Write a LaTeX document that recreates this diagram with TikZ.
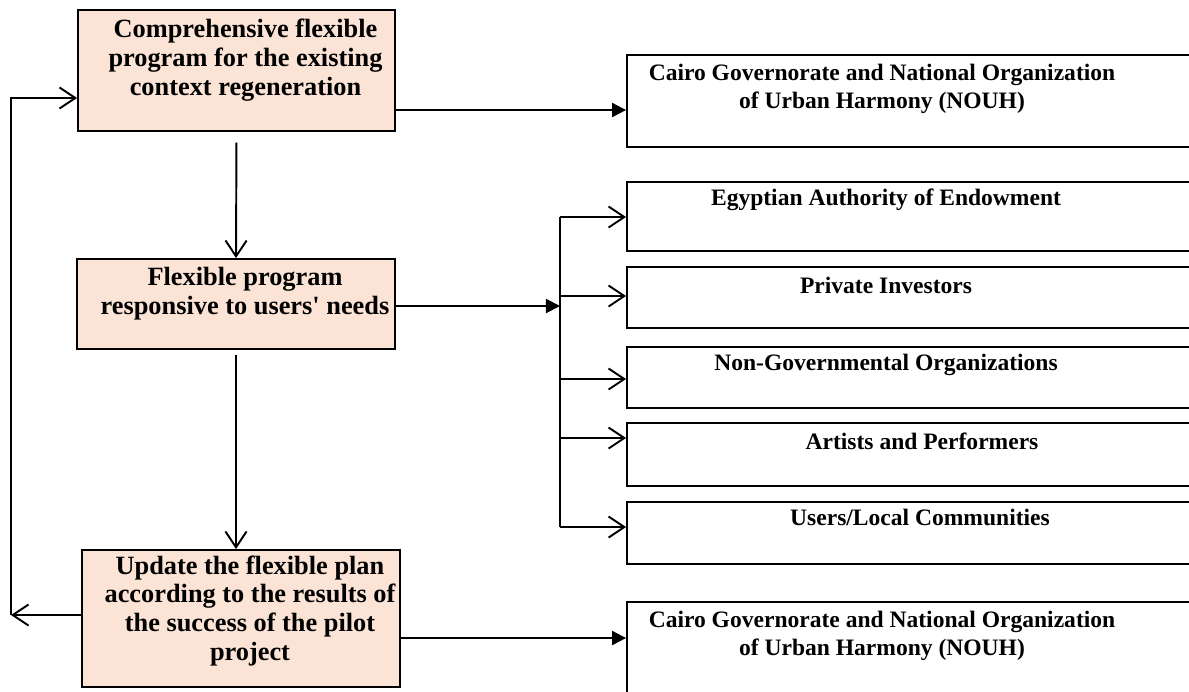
\documentclass[tikz,border=0pt]{standalone}
\usepackage{fontspec}
\setmainfont{Liberation Serif}
\usetikzlibrary{arrows.meta,positioning,calc}
\definecolor{peach}{HTML}{FBE4D5}

\begin{document}
\begin{tikzpicture}[x=0.02cm,y=-0.02cm,line width=1.1pt,
  pbox/.style={draw=black,fill=peach,rectangle,inner sep=0pt},
  wbox/.style={draw=black,fill=white,rectangle,inner sep=0pt,
    minimum width=11.56cm},
  ltext/.style={font=\fontsize{15}{16.5}\selectfont\bfseries,align=center,
    inner sep=0pt},
  rtext/.style={font=\fontsize{13.4}{16}\selectfont\bfseries,align=center,
    inner sep=0pt},
  barb/.style={-{Straight Barb[length=9pt,width=12pt]}},
  solid arrow/.style={-{Triangle[length=8pt,width=8pt]}}]

  \useasboundingbox (0,0) rectangle (1189,691);

  % ---- Left column: programme boxes ------------------------
  \node[pbox,minimum width=6.34cm,minimum height=2.42cm] (compr) at (236.5,70.5) {};
  \node[ltext] (comprtxt) at (245.5,60)
    {Comprehensive flexible\\program for the existing\\context regeneration};

  \node[pbox,minimum width=6.36cm,minimum height=1.80cm] (needs) at (236,304) {};
  \node[ltext] (needstxt) at (245,294)
    {Flexible program\\responsive to users\textquotesingle{} needs};

  \node[pbox,minimum width=6.36cm,minimum height=2.74cm] (update) at (241,618.5) {};
  \node[ltext] (updatetxt) at (250,611)
    {Update the flexible plan\\according to the results of\\the success of the pilot\\project};

  % ---- Right column: actors --------------------------------
  \node[wbox,minimum height=1.84cm] (cairoA) at (916,101) {};
  \node[rtext] (cairoAtxt) at (882,89)
    {Cairo Governorate and National Organization\\of Urban Harmony (NOUH)};

  \node[wbox,minimum height=1.38cm] (egypt) at (916,216.5) {};
  \node[rtext] (egypttxt) at (886,200) {Egyptian Authority of Endowment};

  \node[wbox,minimum height=1.22cm] (invest) at (916,297.5) {};
  \node[rtext] (investtxt) at (886,285) {Private Investors};

  \node[wbox,minimum height=1.22cm] (ngo) at (916,377.5) {};
  \node[rtext] (ngotxt) at (886,365) {Non-Governmental Organizations};

  \node[wbox,minimum height=1.26cm] (artist) at (916,454.5) {};
  \node[rtext] (artisttxt) at (922,441) {Artists and Performers};

  \node[wbox,minimum height=1.24cm] (users) at (916,533) {};
  \node[rtext] (userstxt) at (920,517) {Users/Local Communities};

  \node[wbox,minimum height=2.36cm] (cairoB) at (916,661) {};
  \node[rtext] (cairoBtxt) at (882,636)
    {Cairo Governorate and National Organization\\of Urban Harmony (NOUH)};

  % ---- Distribution bus ------------------------------------
  \coordinate (busE) at (560,217);
  \coordinate (busI) at (560,296);
  \coordinate (busN) at (560,379);
  \coordinate (busA) at (560,438);
  \coordinate (busU) at (560,527);
  \coordinate (busIn) at (560,306);
  \draw (busE) -- (busU);

  % ---- Connectors ------------------------------------------
  \coordinate (toA) at (395,110);
  \coordinate (toB) at (400,638);

  \draw[barb,shorten <=6pt] (compr.south) -- (needs.north);
  \draw[barb,shorten <=3pt] (needs.south) -- (needs.south |- update.north);

  \draw[solid arrow] (toA) -- (toA -| cairoA.west);
  \draw[solid arrow] (needs.east |- busIn) -- (busIn);
  \draw[solid arrow] (toB) -- (toB -| cairoB.west);

  \draw[barb] (busE) -- (busE -| egypt.west);
  \draw[barb] (busI) -- (busI -| invest.west);
  \draw[barb] (busN) -- (busN -| ngo.west);
  \draw[barb] (busA) -- (busA -| artist.west);
  \draw[barb] (busU) -- (busU -| users.west);

  % ---- Feedback loop ---------------------------------------
  \coordinate (loopbot) at (11,615);
  \coordinate (looptop) at (11,98);
  \draw[barb] (update.west |- loopbot) -- (loopbot);
  \draw[barb] (loopbot) -- (looptop) -- (compr.west |- looptop);

\end{tikzpicture}
\end{document}
